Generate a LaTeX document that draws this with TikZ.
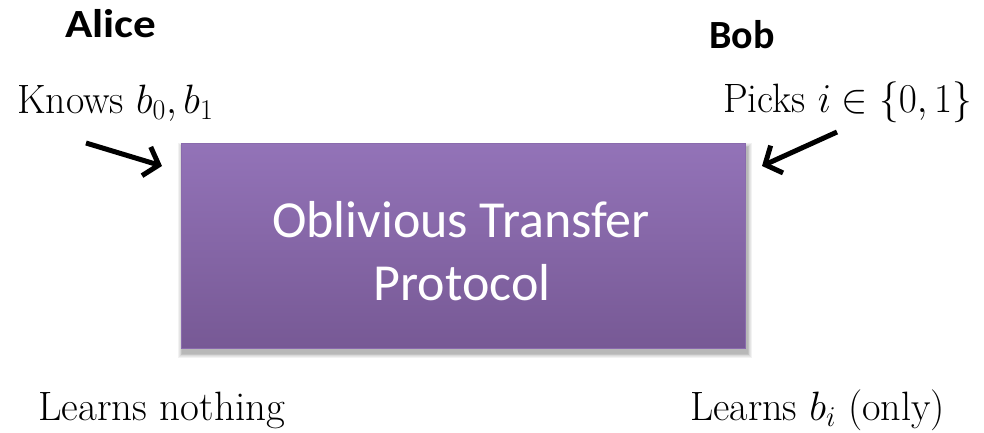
\RequirePackage{fix-cm}
\documentclass[tikz,border=0pt]{standalone}
\usepackage{fontspec}
\newfontfamily\calibri{Carlito}
\usetikzlibrary{arrows.meta}
\definecolor{ottop}{HTML}{9373B8}
\definecolor{otbot}{HTML}{775995}
\definecolor{otborder}{HTML}{8A6BAD}
\tikzset{
  party/.style={anchor=base west, font=\calibri\bfseries\fontsize{40}{48}\selectfont, inner sep=0pt},
  note/.style={anchor=base west, font=\fontsize{41}{48}\selectfont, inner sep=0pt},
  boxtext/.style={anchor=base, text=white, inner sep=0pt, font=\calibri\fontsize{52}{63}\selectfont},
  arr/.style={line width=5pt, -{Straight Barb[length=13pt,width=30pt]}},
  otbox/.style={minimum width=564pt, minimum height=205pt, top color=ottop, bottom color=otbot,
    draw=otborder, line width=0.8pt}
}
\begin{document}
\begin{tikzpicture}[x=1pt,y=-1pt]
\useasboundingbox (0,0) rectangle (984,432);
\fill[white] (0,0) rectangle (984,432);
% shadow
\foreach \i in {1,...,6}{
  \fill[black, opacity=0.05] (181+2-\i*0.8,143+5-\i*0.8) rectangle (745+2+\i*0.8,348+5+\i*0.8);
}
\node[otbox] (box) at (463,245.5) {};
\node[boxtext] (t1) at (461,237) {Oblivious Transfer};
\node[boxtext] (t2) at (462,300) {Protocol};
\node[party] (alice) at (65,37) {\scalebox{1.13}[1]{Alice}};
\node[party] (bob) at (709,48) {Bob};
\node[note] (knows) at (17,113) {\scalebox{0.97}[1]{Knows $b_0, b_1$}};
\node[note] (picks) at (723,112) {\scalebox{0.96}[1]{Picks $i \in \{0{,}\,1\}$}};
\node[note] (lnothing) at (38,420) {Learns nothing};
\node[note] (lbi) at (690,420) {\scalebox{0.98}[1]{Learns $b_i$ (only)}};
\coordinate (a1s) at (86,143);
\coordinate (a1e) at (162,166);
\coordinate (a2s) at (837,132);
\coordinate (a2e) at (762,166);
\draw[arr] (a1s) -- (a1e);
\draw[arr] (a2s) -- (a2e);
\end{tikzpicture}
\end{document}
